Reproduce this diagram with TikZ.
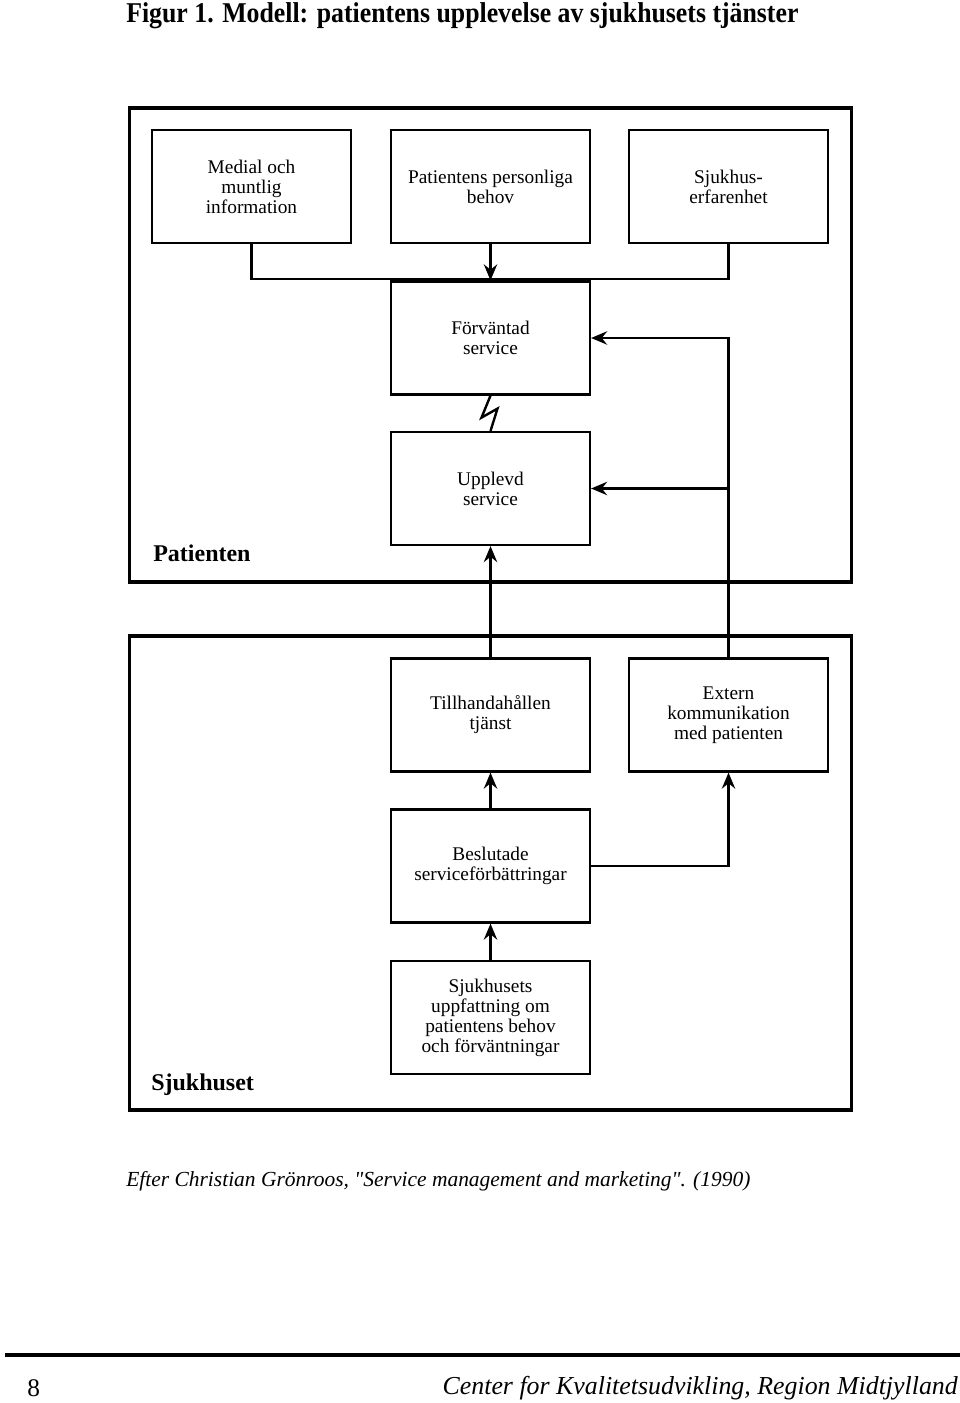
\documentclass[tikz,border=0pt]{standalone}
\usepackage{fontspec}
\setmainfont{Liberation Serif}
\newfontfamily\capfont{Liberation Serif}[Ligatures=TeXOff]
\usetikzlibrary{arrows.meta}
\begin{document}
\begin{tikzpicture}[x=0.75pt,y=-0.75pt,
  box/.style={draw,line width=1.9pt,minimum width=149pt,minimum height=84.5pt,inner sep=2pt,align=center,font=\fontsize{14.5}{15}\selectfont},
  frame/.style={draw,line width=2.3pt,minimum width=542pt,minimum height=355.5pt,inner sep=0pt},
  conn/.style={line width=1.8pt},
  arr/.style={conn,-{Stealth[length=12pt,width=10pt,inset=4pt]}},
  lab/.style={font=\bfseries\fontsize{18}{21}\selectfont,anchor=base west,inner sep=0pt}]
\useasboundingbox (0,0) rectangle (960,1403);
% title
\node[anchor=base west,inner sep=0pt,font=\bfseries\fontsize{21.5}{26}\selectfont] (title) at (126,22) {\scalebox{0.9}[1]{Figur 1. Modell: patientens upplevelse av sjukhusets tjänster}};
% frames
\node[frame] (pat) at (490.5,345) {};
\node[frame] (sjuk) at (490.5,873) {};
\node[lab] (patlab) at (153,561) {Patienten};
\node[lab] (sjuklab) at (151,1090) {Sjukhuset};
% boxes
\node[box] (b1) at (251.5,186.5) {Medial och\\muntlig\\information};
\node[box] (b2) at (490.5,186.5) {Patientens personliga\\behov};
\node[box] (b3) at (728.5,186.5) {Sjukhus-\\erfarenhet};
\node[box] (exp) at (490.5,338) {Förväntad\\service};
\node[box] (upl) at (490.5,488.5) {Upplevd\\service};
\node[box] (till) at (490.5,715) {Tillhandahållen\\tjänst};
\node[box] (ext) at (728.5,715) {Extern\\kommunikation\\med patienten};
\node[box] (besl) at (490.5,866) {Beslutade\\serviceförbättringar};
\node[box] (sjh) at (490.5,1017.5) {Sjukhusets\\uppfattning om\\patientens behov\\och förväntningar};
% connectors
\draw[conn] (b1.south) -- ++(0,35) -| (b3.south);
\draw[arr] (b2.south) -- (exp.north);
\draw[conn] (exp.south) -- ++(-9,22) -- ++(16,-9) -- (upl.north);
\draw[arr] (ext.north) |- (exp.east);
\draw[arr] (ext.north |- upl.east) -- (upl.east);
\draw[arr] (till.north) -- (upl.south);
\draw[arr] (besl.north) -- (till.south);
\draw[arr] (besl.east) -| (ext.south);
\draw[arr] (sjh.north) -- (besl.south);
% caption
\node[anchor=west,inner sep=0pt,font=\capfont\itshape\fontsize{16.1}{19}\selectfont] (cap) at (126,1181) {Efter Christian Grönroos, "Service management and marketing". (1990)};
% footer
\draw[line width=2.3pt] (5,1355) -- (960,1355);
\node[anchor=west,inner sep=0pt,font=\fontsize{19}{22}\selectfont] (pg) at (27,1388) {8};
\node[anchor=east,inner sep=0pt,font=\itshape\fontsize{19.4}{22}\selectfont] (foot) at (958,1388) {Center for Kvalitetsudvikling, Region Midtjylland};
\end{tikzpicture}
\end{document}
